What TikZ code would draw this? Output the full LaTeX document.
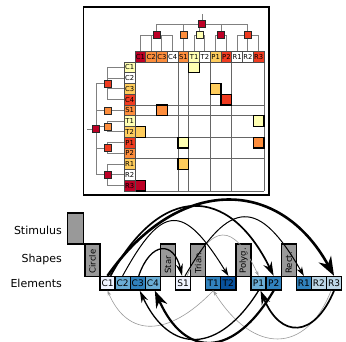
\documentclass[tikz,border=0pt]{standalone}
\usepackage{fontspec}
\setmainfont{DejaVu Sans}
\usetikzlibrary{arrows.meta}
\pgfdeclarelayer{bg}
\pgfsetlayers{bg,main}
\definecolor{yl1}{HTML}{FFFFB2}
\definecolor{yl2}{HTML}{FECC5C}
\definecolor{yl3}{HTML}{FD8D3C}
\definecolor{yl4}{HTML}{F03B20}
\definecolor{yl5}{HTML}{BD0026}
\definecolor{bl1}{HTML}{EFF3FF}
\definecolor{bl2}{HTML}{BDD7E7}
\definecolor{bl3}{HTML}{6BAED6}
\definecolor{bl4}{HTML}{3182BD}
\definecolor{bl5}{HTML}{08519C}
\definecolor{shp}{HTML}{999999}
\definecolor{dline}{HTML}{808080}
\definecolor{thin}{HTML}{9A9A9A}
\begin{document}
\begin{tikzpicture}[x=1pt,y=-1pt,
  hdr/.style={draw=black!70, line width=0.6pt, minimum width=10.75pt, minimum height=10.75pt, inner sep=0pt, font=\fontsize{6.8}{7}\selectfont},
  mcell/.style={draw=black, line width=1.1pt, minimum size=10.75pt, inner sep=0pt},
  dsq/.style={draw=black!85, line width=0.5pt, minimum size=7pt, inner sep=0pt},
  dl/.style={draw=dline, line width=0.8pt},
  gridl/.style={draw=black!60, line width=0.9pt},
  elem/.style={draw=black, line width=1.3pt, minimum width=15.1pt, minimum height=13.5pt, inner sep=0pt, font=\fontsize{9}{10}\selectfont},
  shapebox/.style={draw=black, line width=1.3pt, fill=shp, minimum width=15.1pt, minimum height=32.5pt, inner sep=0pt},
  shapetxt/.style={rotate=90, anchor=west, inner sep=0pt, font=\fontsize{8.5}{9}\selectfont},
  rowlab/.style={anchor=east, inner sep=0pt, font=\fontsize{11}{13}\selectfont},
  wA/.style={line width=2.6pt, -{Stealth[length=19pt,width=14pt]}},
  wB/.style={line width=2.2pt, -{Stealth[length=17pt,width=12pt]}},
  wC/.style={line width=1.7pt, -{Stealth[length=14pt,width=9pt]}},
  wD/.style={line width=1.3pt, -{Stealth[length=12pt,width=7pt]}},
  wE/.style={line width=1.0pt, -{Stealth[length=9pt,width=6pt]}},
  wF/.style={draw=thin, line width=0.6pt, -{Stealth[length=5pt,width=3.5pt]}}
]
\useasboundingbox (0,0) rectangle (346,342);

% ---------- top panel ----------
\draw[line width=1.3pt] (83.5,7) rectangle (269,195);

\begin{pgfonlayer}{bg}
\foreach \x in {135,178,188.75,210.25,231.75,264} \draw[gridl] (\x,62) -- (\x,191);
\foreach \y in {62,105,115.75,137.25,158.75,191} \draw[gridl] (135,\y) -- (264,\y);
\end{pgfonlayer}

% matrix cells
\foreach \c/\r/\k [count=\i] in {yl1/0/5, yl2/2/7, yl4/3/8, yl3/4/2, yl1/5/11, yl2/6/0, yl1/7/4, yl3/7/11, yl2/9/4, yl5/11/0}
  \node[mcell, fill=\c] (m\i) at ({140.375+10.75*\k},{67.375+10.75*\r}) {};

% column headers
\foreach \n/\c [count=\i from 0] in {C1/yl5,C2/yl3,C3/yl3,C4/white,S1/yl3,T1/yl1,T2/white,P1/yl2,P2/yl4,R1/white,R2/white,R3/yl4}
  \node[hdr, fill=\c] (ch\n) at ({140.375+10.75*\i},56.625) {\n};
% row headers
\foreach \n/\c [count=\i from 0] in {C1/yl1,C2/white,C3/yl2,C4/yl4,S1/yl3,T1/yl1,T2/yl2,P1/yl4,P2/yl3,R1/yl2,R2/white,R3/yl5}
  \node[hdr, fill=\c] (rh\n) at (129.625,{67.375+10.75*\i}) {\n};

% top dendrogram
\node[dsq, fill=yl5] (tgC) at (156.5,35) {};
\node[dsq, fill=yl3] (tgS) at (183.375,35) {};
\node[dsq, fill=yl1] (tgT) at (199.5,35) {};
\node[dsq, fill=yl5] (tgP) at (221,35) {};
\node[dsq, fill=yl4] (tgR) at (247.875,35) {};
\node[dsq, fill=yl5] (troot) at (202.2,24) {};
\coordinate (ttop) at (202.2,14.5);
% left dendrogram
\node[dsq, fill=yl4] (lgC) at (107.3,83.5) {};
\node[dsq, fill=yl3] (lgS) at (107.3,110.375) {};
\node[dsq, fill=yl3] (lgT) at (107.3,126.5) {};
\node[dsq, fill=yl4] (lgP) at (107.3,148) {};
\node[dsq, fill=yl5] (lgR) at (107.3,174.625) {};
\node[dsq, fill=yl5] (lroot) at (96,129) {};
\coordinate (lleft) at (86.5,129);

\begin{pgfonlayer}{bg}
\foreach \n in {C1,C2,C3,C4} \draw[dl] (ch\n.north) |- (tgC.center);
\draw[dl] (chS1.north) |- (tgS.center);
\foreach \n in {T1,T2} \draw[dl] (ch\n.north) |- (tgT.center);
\foreach \n in {P1,P2} \draw[dl] (ch\n.north) |- (tgP.center);
\foreach \n in {R1,R2,R3} \draw[dl] (ch\n.north) |- (tgR.center);
\foreach \g in {C,S,T,P,R} \draw[dl] (tg\g.center) |- (troot.center);
\draw[dl] (troot.center) -- (ttop);
\foreach \n in {C1,C2,C3,C4} \draw[dl] (rh\n.west) -| (lgC.center);
\draw[dl] (rhS1.west) -| (lgS.center);
\foreach \n in {T1,T2} \draw[dl] (rh\n.west) -| (lgT.center);
\foreach \n in {P1,P2} \draw[dl] (rh\n.west) -| (lgP.center);
\foreach \n in {R1,R2,R3} \draw[dl] (rh\n.west) -| (lgR.center);
\foreach \g in {C,S,T,P,R} \draw[dl] (lg\g.center) -| (lroot.center);
\draw[dl] (lroot.center) -- (lleft);
\end{pgfonlayer}

% ---------- bottom panel ----------
\node[rowlab] (lstim) at (62,230) {Stimulus};
\node[rowlab] (lshape) at (62,259.5) {Shapes};
\node[rowlab] (lelem) at (62,283.5) {Elements};

\node[shapebox, minimum width=16pt, minimum height=31pt] (stim) at (75.5,228.5) {};
\foreach \s/\t/\k in {Circle/Circle/-1, Star/Star/4, Tri/Trian./6, Poly/Polyg./9, Rect/Rect./12}{
  \node[shapebox] (s\s) at ({107.55+15.1*\k},260.25) {};
  \node[shapetxt] (t\s) at ({107.55+15.1*\k},273.8) {\t};
}
\foreach \n/\c/\k in {C1/bl1/0, C2/bl3/1, C3/bl4/2, C4/bl3/3, S1/bl1/5, T1/bl4/7, T2/bl5/8, P1/bl3/10, P2/bl4/11, R1/bl4/13, R2/bl2/14, R3/bl2/15}
  \node[elem, fill=\c] (e\n) at ({107.55+15.1*\k},283.25) {\n};

% arcs above (forward)
\draw[wF] ([xshift=4pt]eS1.north) .. controls +(25,-54) and +(-25,-54) .. (eP1.north);
\draw[wA] (eC1.north) .. controls +(70,-100) and +(-55,-100) .. (eR3.north);
\draw[wC] ([xshift=3pt]eC1.north) .. controls +(50,-92) and +(-45,-92) .. (eP2.north);
\draw[wE] (eC2.north) .. controls +(40,-73) and +(-45,-73) .. (eT2.north);
\draw[wD] ([xshift=1pt]eC3.north) .. controls +(12,-35) and +(-8,-35) .. ([xshift=-1pt]eS1.north);
\draw[wE] ([xshift=2pt]eS1.north) .. controls +(45,-78) and +(-45,-78) .. (eR1.north);
% arcs below (backward)
\draw[wF] (eT1.south) .. controls +(-45,47) and +(20,47) .. (eC1.south);
\draw[wF] ([xshift=-3pt]eR3.south) .. controls +(-25,64) and +(40,64) .. (eT1.south);
\draw[wD] (eP1.south) .. controls +(-40,64) and +(30,64) .. ([xshift=2pt]eC3.south);
\draw[wB] (eP2.south) .. controls +(-40,68) and +(30,68) .. ([xshift=2pt]eC4.south);
\draw[wC] (eR3.south) .. controls +(-20,48) and +(20,48) .. ([xshift=2pt]eP1.south);
\end{tikzpicture}
\end{document}
